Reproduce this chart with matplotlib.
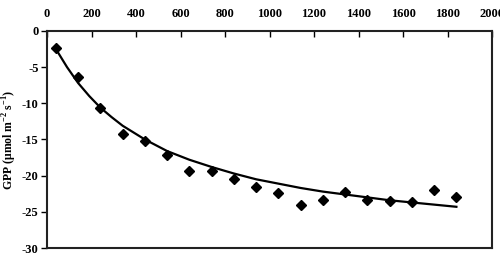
import matplotlib
matplotlib.use("Agg")
import matplotlib.pyplot as plt
from matplotlib.ticker import FuncFormatter

x_vals = [40, 140, 240, 340, 440, 540, 640, 740, 840, 940, 1040, 1140, 1240, 1340, 1440, 1540, 1640, 1740, 1840]
gpp_vals = [-2.3, -6.3, -10.7, -14.3, -15.2, -17.1, -19.3, -19.3, -20.5, -21.5, -22.4, -24.0, -23.3, -22.2, -23.3, -23.5, -23.6, -22.0, -23.0]
fit_x = [40, 90, 140, 190, 240, 290, 340, 440, 540, 640, 740, 840, 940, 1040, 1140, 1240, 1340, 1440, 1540, 1640, 1740, 1840]
fit_vals = [-2.5, -5.0, -7.2, -9.0, -10.6, -11.9, -13.1, -15.0, -16.6, -17.8, -18.8, -19.7, -20.5, -21.1, -21.7, -22.2, -22.6, -23.0, -23.4, -23.7, -24.0, -24.3]
x_ticks = [0, 200, 400, 600, 800, 1000, 1200, 1400, 1600, 1800, 2000]
y_ticks = [0, -5, -10, -15, -20, -25, -30]

plt.rcParams['font.family'] = ['Liberation Serif', 'DejaVu Serif']
plt.rcParams['mathtext.fontset'] = 'custom'
plt.rcParams['mathtext.rm'] = 'Liberation Serif:bold'
plt.rcParams['mathtext.bf'] = 'Liberation Serif:bold'

fig = plt.figure(figsize=(5, 2.6), dpi=100)
ax = fig.add_axes([0.094, 0.046, 0.89, 0.835])

ax.plot(fit_x, fit_vals, color='black', lw=1.6, zorder=2)
ax.plot(x_vals, gpp_vals, linestyle='none', marker='D', markersize=5.5, color='black', zorder=3)

ax.set_xlim(0, 2000)
ax.set_ylim(-30, 0)
ax.set_xticks(x_ticks)
ax.set_yticks(y_ticks)
ax.xaxis.tick_top()
ax.tick_params(axis='x', direction='in', length=4, width=1, labelsize=9, pad=8)
ax.tick_params(axis='y', direction='out', length=4, width=1, labelsize=9, pad=2)
ax.yaxis.set_major_formatter(FuncFormatter(lambda v, p: f"{int(v)}".replace('\u2212', '-')))
for lbl in ax.get_xticklabels() + ax.get_yticklabels():
    lbl.set_fontweight('bold')
for s in ax.spines.values():
    s.set_linewidth(1.5)
    s.set_color('#222222')

ax.set_ylabel(r"GPP ($\mathregular{\mu}$mol m$^{-2}$ s$^{-1}$)", fontsize=8.5, fontweight='bold', labelpad=2)

fig.savefig("out.png", dpi=100)
